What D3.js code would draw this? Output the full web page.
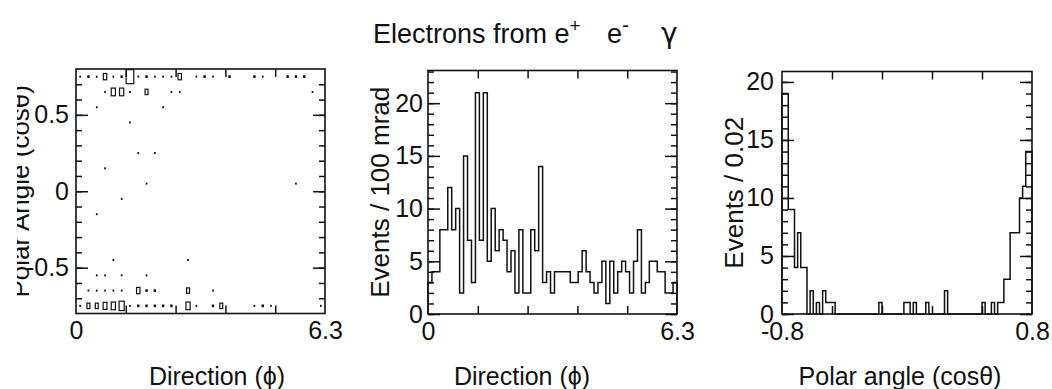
<!DOCTYPE html>
<html>
<head>
<meta charset="utf-8">
<script src="https://cdn.jsdelivr.net/npm/d3@7"></script>
<style>
  body { margin: 0; background: #fff; }
  svg { display: block; }
  text { font-family: "Liberation Sans", Arial, sans-serif; fill: #111; }
</style>
</head>
<body>
<svg id="chart" width="1052" height="389"></svg>
<script>
// phi histogram, 63 bins of 100 mrad
const phiCounts = [
  3, 4, 4, 8, 8, 12, 8, 10, 2, 15,
  7, 3, 21, 7, 21, 5, 10, 6, 8, 7,
  4, 6, 2, 8, 2, 2, 8, 6, 14, 3,
  4, 2, 4, 4, 4, 4, 3, 3, 4, 6,
  4, 3, 2, 3, 5, 1, 5, 2, 4, 5,
  4, 2, 5, 8, 2, 3, 5, 5, 4, 4,
  2, 2, 3
]
// cos(theta) histogram, 80 bins of 0.02 from -0.8
const cosCounts = [
  19, 19, 9, 9, 4, 7, 4, 4, 0, 2,
  0, 1, 0, 2, 1, 1, 1, 0, 0, 0,
  0, 0, 0, 0, 0, 0, 0, 0, 0, 0,
  0, 1, 0, 0, 0, 0, 0, 0, 0, 1,
  1, 0, 1, 0, 0, 0, 1, 0, 0, 0,
  0, 0, 2, 0, 0, 0, 0, 0, 0, 0,
  0, 0, 0, 0, 1, 0, 0, 1, 0, 1,
  1, 3, 3, 7, 7, 7, 10, 11, 14, 14
]
// box plot cells: [phi bin (30 over 0..6.3), cos bin (16 over -0.8..0.8), count]
const boxCells = [
  [0, 15, 1], [1, 15, 2], [2, 15, 1], [3, 15, 4], [4, 15, 1], [5, 15, 2], [6, 15, 20], [7, 15, 1],
  [8, 15, 2], [9, 15, 1], [10, 15, 1], [11, 15, 1], [12, 15, 4], [14, 15, 1], [15, 15, 2], [16, 15, 1],
  [18, 15, 2], [21, 15, 2], [22, 15, 1], [25, 15, 2], [26, 15, 2], [27, 15, 2],
  [3, 14, 1], [4, 14, 6], [5, 14, 6], [6, 14, 1], [8, 14, 3], [11, 14, 1], [12, 14, 1], [28, 14, 1],
  [2, 13, 1], [10, 13, 1],
  [6, 12, 1],
  [7, 10, 1], [9, 10, 1],
  [3, 9, 1],
  [8, 8, 1], [26, 8, 1],
  [5, 7, 1],
  [2, 6, 1],
  [4, 3, 1], [13, 3, 1],
  [2, 2, 1], [3, 2, 1], [5, 2, 1], [8, 2, 1],
  [1, 1, 1], [2, 1, 1], [3, 1, 1], [4, 1, 1], [5, 1, 1], [7, 1, 4], [8, 1, 2], [9, 1, 2], [13, 1, 3], [16, 1, 1],
  [0, 0, 1], [1, 0, 3], [2, 0, 3], [3, 0, 5], [4, 0, 6], [5, 0, 9], [6, 0, 1], [7, 0, 2], [8, 0, 2], [9, 0, 2],
  [10, 0, 2], [11, 0, 2], [13, 0, 6], [14, 0, 1], [16, 0, 2], [17, 0, 3], [21, 0, 1], [22, 0, 2], [23, 0, 1], [29, 0, 1]
]
const phiTicks = [1.26, 2.52, 3.78, 5.04]
const cosTicks = [-0.48, -0.16, 0.16, 0.48]
const phiEndLabels = [0, 6.3]
const cosEndLabels = [-0.8, 0.8]
const angleMajor = [-0.5, 0, 0.5]
const angleMinor = d3.range(-7, 8).map(d => d / 10)
const countMajor = [0, 5, 10, 15, 20]
const countMinor = d3.range(0, 24)

const svg = d3.select('#chart')
svg.append('rect').attr('width', 1052).attr('height', 389).attr('fill', '#fff')

const TICK_BIG = 12
const TICK_SMALL = 6
const TICK_X = 8
const plain = d => String(d)

function panel(box) {
  const g = svg.append('g').attr('transform', `translate(${box.left},${box.top})`)
  const w = box.right - box.left
  const h = box.bottom - box.top
  return { g, w, h }
}

function drawAxes(p, x, y, o) {
  const { g, w, h } = p

  // y ticks, left side (labelled) and right side, all pointing inward
  g.append('g').call(d3.axisLeft(y).tickValues(o.yMinor).tickSize(-TICK_SMALL).tickFormat(''))
  g.append('g').call(d3.axisLeft(y).tickValues(o.yMajor).tickSize(-TICK_BIG).tickPadding(o.yPad).tickFormat(plain))
  g.append('g').attr('transform', `translate(${w},0)`)
    .call(d3.axisRight(y).tickValues(o.yMinor).tickSize(-TICK_SMALL).tickFormat(''))
  g.append('g').attr('transform', `translate(${w},0)`)
    .call(d3.axisRight(y).tickValues(o.yMajor).tickSize(-TICK_BIG).tickFormat(''))

  // x ticks top and bottom, labels only at the two ends
  g.append('g').attr('transform', `translate(0,${h})`)
    .call(d3.axisBottom(x).tickValues(o.xTicks).tickSize(-TICK_X).tickFormat(''))
  g.append('g').call(d3.axisTop(x).tickValues(o.xTicks).tickSize(-TICK_X).tickFormat(''))
  g.append('g').attr('transform', `translate(0,${h})`)
    .call(d3.axisBottom(x).tickValues(o.xLabels).tickSize(0).tickPadding(8).tickFormat(plain))

  g.selectAll('.domain').remove()
  g.selectAll('.tick line').attr('stroke', '#111').attr('stroke-width', 1.5)
  g.selectAll('.tick text').attr('font-size', 25).attr('fill', '#111')

  g.append('rect')
    .attr('width', w).attr('height', h)
    .attr('fill', 'none').attr('stroke', '#111').attr('stroke-width', 1.6)
}

function yTitle(cy, cx, label, clipLeft) {
  const holder = svg.append('g')
  if (clipLeft != null) {
    svg.append('clipPath').attr('id', 'ylab-clip')
      .append('rect').attr('x', clipLeft).attr('y', 0).attr('width', 200).attr('height', 389)
    holder.attr('clip-path', 'url(#ylab-clip)')
  }
  holder.append('text')
    .attr('transform', `translate(${cx},${cy}) rotate(-90)`)
    .attr('text-anchor', 'middle')
    .attr('font-size', 26)
    .text(label)
}

function xTitle(cx, label) {
  svg.append('text')
    .attr('x', cx).attr('y', 385)
    .attr('text-anchor', 'middle')
    .attr('font-size', 25)
    .text(label)
}

// ---------- left: box plot cos(theta) vs phi
const b1 = { left: 76, right: 325, top: 69, bottom: 313.5 }
const p1 = panel(b1)
const x1 = d3.scaleLinear().domain([0, 6.3]).range([0, p1.w])
const y1 = d3.scaleLinear().domain([-0.8, 0.8]).range([p1.h, 0])
const phiBoxW = 6.3 / 30
const cosBoxH = 1.6 / 16
const maxCell = d3.max(boxCells, d => d[2])
const side = d3.scaleSqrt().domain([0, maxCell]).range([0, 0.92])

boxCells.forEach(([i, j, c]) => {
  const cx = x1((i + 0.5) * phiBoxW)
  const cy = y1(-0.8 + (j + 0.5) * cosBoxH)
  const bw = (x1(phiBoxW) - x1(0)) * side(c)
  const small = bw < 2.8
  // small cells print as square dots, larger ones as outlined boxes
  const bh = small ? bw + 0.3 : (y1(0) - y1(cosBoxH)) * side(c)
  p1.g.append('rect')
    .attr('x', cx - bw / 2).attr('y', cy - bh / 2)
    .attr('width', bw).attr('height', bh)
    .attr('fill', small ? '#111' : 'none')
    .attr('stroke', small ? 'none' : '#111')
    .attr('stroke-width', 1.2)
})

drawAxes(p1, x1, y1, {
  yMinor: angleMinor, yMajor: angleMajor, yPad: 7,
  xTicks: phiTicks, xLabels: phiEndLabels
})
// the scanned original cuts this title along its left edge
yTitle((b1.top + b1.bottom) / 2, 29, 'Polar Angle (cosθ)', 17)
xTitle(217, 'Direction (ϕ)')

// ---------- middle: phi histogram
const b2 = { left: 428, right: 677, top: 70.5, bottom: 314 }
const p2 = panel(b2)
const x2 = d3.scaleLinear().domain([0, 6.3]).range([0, p2.w])
const y2 = d3.scaleLinear().domain([0, 23.1]).range([p2.h, 0])

function stepPath(counts, x0, bw, x, y) {
  const pts = [[x0, 0]]
  counts.forEach((c, i) => pts.push([x0 + i * bw, c]))
  pts.push([x0 + counts.length * bw, counts[counts.length - 1]])
  pts.push([x0 + counts.length * bw, 0])
  return d3.line().x(d => x(d[0])).y(d => y(d[1])).curve(d3.curveStepAfter)(pts)
}

p2.g.append('path')
  .attr('d', stepPath(phiCounts, 0, 0.1, x2, y2))
  .attr('fill', 'none').attr('stroke', '#111').attr('stroke-width', 1.5)

drawAxes(p2, x2, y2, {
  yMinor: countMinor.filter(d => d <= 23), yMajor: countMajor, yPad: 5,
  xTicks: phiTicks, xLabels: phiEndLabels
})
yTitle((b2.top + b2.bottom) / 2, 389, 'Events / 100 mrad')
xTitle(522, 'Direction (ϕ)')

// ---------- right: cos(theta) histogram
const b3 = { left: 782, right: 1032, top: 71.5, bottom: 314 }
const p3 = panel(b3)
const x3 = d3.scaleLinear().domain([-0.8, 0.8]).range([0, p3.w])
const y3 = d3.scaleLinear().domain([0, 20.9]).range([p3.h, 0])

p3.g.append('path')
  .attr('d', stepPath(cosCounts, -0.8, 0.02, x3, y3))
  .attr('fill', 'none').attr('stroke', '#111').attr('stroke-width', 1.5)

drawAxes(p3, x3, y3, {
  yMinor: countMinor.filter(d => d <= 20), yMajor: countMajor, yPad: 8,
  xTicks: cosTicks, xLabels: cosEndLabels
})
yTitle((b3.top + b3.bottom) / 2, 743, 'Events / 0.02')
xTitle(900, 'Polar angle (cosθ)')

// ---------- title
const title = svg.append('text')
  .attr('x', 373).attr('y', 43)
  .attr('font-size', 27)
title.append('tspan').text('Electrons from e')
title.append('tspan').attr('dy', -11).attr('font-size', 19).text('+')
title.append('tspan').attr('x', 607).attr('dy', 11).text('e')
title.append('tspan').attr('dy', -11).attr('font-size', 21).text('-')
title.append('tspan').attr('x', 661).attr('dy', 11).attr('font-size', 28)
  .attr('font-family', '"DejaVu Sans", sans-serif').text('γ')
</script>
</body>
</html>
